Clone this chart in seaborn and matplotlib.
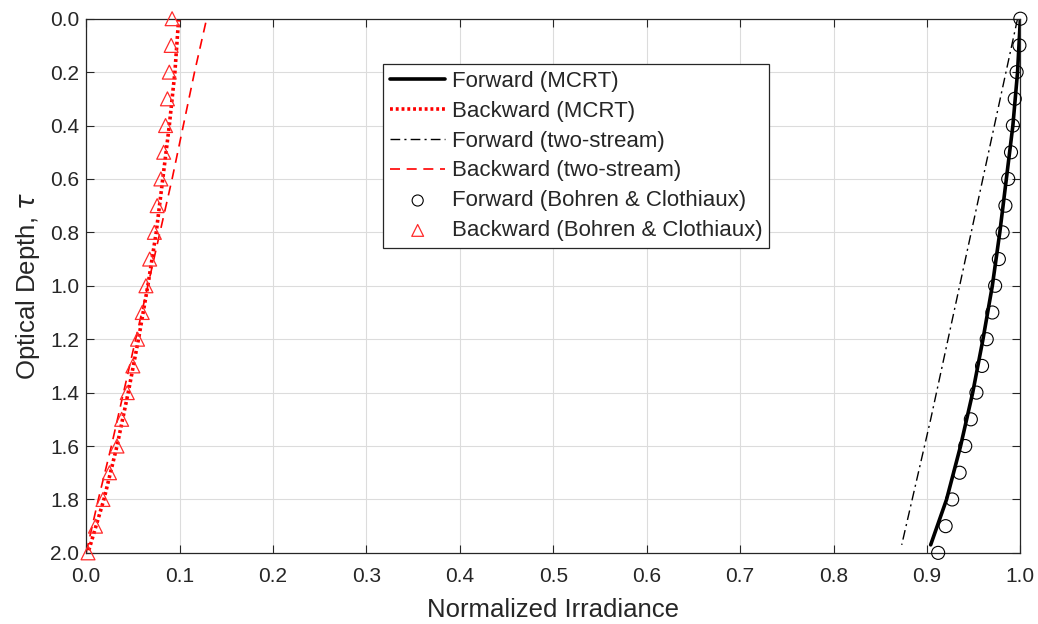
import numpy as np
import pandas as pd
import seaborn as sns
import matplotlib.pyplot as plt

# optical depth grids
tau_pts = [0.0, 0.1, 0.2, 0.3, 0.4, 0.5, 0.6, 0.7, 0.8, 0.9, 1.0,
           1.1, 1.2, 1.3, 1.4, 1.5, 1.6, 1.7, 1.8, 1.9, 2.0]
tau_fwd_mcrt = [0.0, 0.2, 0.4, 0.6, 0.8, 1.0, 1.2, 1.4, 1.6, 1.8, 1.97]
tau_bwd_mcrt = [0.0, 0.2, 0.4, 0.6, 0.8, 1.0, 1.2, 1.4, 1.6, 1.8, 2.0]
tau_fwd_2s = [0.0, 0.5, 1.0, 1.5, 1.97]
tau_bwd_2s = [0.015, 0.2, 0.4, 0.6, 0.8, 1.0, 1.2, 1.4, 1.6, 1.8, 2.0]

# normalized irradiance values
fwd_mcrt = [1.0, 0.997, 0.992, 0.985, 0.978, 0.970, 0.960, 0.949, 0.936, 0.921, 0.904]
bwd_mcrt = [0.099, 0.095, 0.089, 0.082, 0.075, 0.066, 0.056, 0.045, 0.033, 0.019, 0.002]
fwd_2s = [0.997, 0.966, 0.935, 0.904, 0.873]
bwd_2s = [0.128, 0.116, 0.104, 0.092, 0.079, 0.066, 0.053, 0.040, 0.027, 0.013, 0.0]
fwd_bc = [1.0, 0.999, 0.996, 0.994, 0.992, 0.990, 0.987, 0.984, 0.981, 0.977, 0.973,
          0.970, 0.964, 0.959, 0.953, 0.947, 0.941, 0.935, 0.927, 0.920, 0.912]
bwd_bc = [0.092, 0.091, 0.089, 0.087, 0.085, 0.083, 0.080, 0.076, 0.073, 0.068, 0.064,
          0.060, 0.055, 0.050, 0.044, 0.038, 0.033, 0.025, 0.018, 0.010, 0.002]

sns.set_theme(style='ticks')
plt.rcParams['font.family'] = ['Liberation Sans', 'DejaVu Sans']
plt.rcParams['mathtext.fontset'] = 'dejavusans'

fig, ax = plt.subplots(figsize=(10.38, 6.24), dpi=100)
fig.subplots_adjust(left=0.083, right=0.983, top=0.970, bottom=0.114)

sns.lineplot(x=fwd_mcrt, y=tau_fwd_mcrt, sort=False, estimator=None, color='black',
             linewidth=2.6, ax=ax, label='Forward (MCRT)')
sns.lineplot(x=bwd_mcrt, y=tau_bwd_mcrt, sort=False, estimator=None, color='red',
             linewidth=2.6, linestyle=(0, (0.8, 0.8)), ax=ax, label='Backward (MCRT)')
sns.lineplot(x=fwd_2s, y=tau_fwd_2s, sort=False, estimator=None, color='black',
             linewidth=1.0, linestyle=(0, (7, 3, 1.5, 3)), ax=ax, label='Forward (two-stream)')
sns.lineplot(x=bwd_2s, y=tau_bwd_2s, sort=False, estimator=None, color='red',
             linewidth=1.2, linestyle=(0, (6, 4)), ax=ax, label='Backward (two-stream)')
sns.scatterplot(x=fwd_bc, y=tau_pts, marker='o', s=88, facecolor='none', edgecolor='black',
                linewidth=0.8, ax=ax, label='Forward (Bohren & Clothiaux)', zorder=3,
                clip_on=False)
sns.scatterplot(x=bwd_bc, y=tau_pts, marker='^', s=100, facecolor='none', edgecolor='#ff2a2a',
                linewidth=0.9, ax=ax, label='Backward (Bohren & Clothiaux)', zorder=3,
                clip_on=False)

ax.set_xlim(0, 1)
ax.set_ylim(2, 0)
ax.set_xticks(np.arange(0, 1.01, 0.1))
ax.set_yticks(np.arange(0, 2.01, 0.2))
ax.xaxis.set_major_formatter(plt.FormatStrFormatter('%.1f'))
ax.yaxis.set_major_formatter(plt.FormatStrFormatter('%.1f'))
ax.grid(True, color='#dcdcdc', linewidth=0.8)
ax.set_axisbelow(True)
ax.tick_params(direction='in', top=True, right=True, labelsize=15, colors='#262626',
               length=6, width=0.8)
ax.tick_params(axis='x', pad=10)
ax.tick_params(axis='y', pad=5)
for sp in ax.spines.values():
    sp.set_color('#262626')
    sp.set_linewidth(0.9)

ax.set_xlabel('Normalized Irradiance', fontsize=18.5, color='#262626', labelpad=9)
ax.set_ylabel(r'Optical Depth, $\tau$', fontsize=18.5, color='#262626', labelpad=6)

handles, labels = ax.get_legend_handles_labels()
leg = ax.legend(handles, labels, loc='upper left', bbox_to_anchor=(0.318, 0.915),
                fontsize=16, frameon=True, fancybox=False, edgecolor='#262626',
                handlelength=2.5, borderpad=0.3, labelspacing=0.4, handletextpad=0.3,
                borderaxespad=0, markerscale=0.85)
leg.get_frame().set_linewidth(0.9)
leg.get_frame().set_alpha(1)

fig.savefig('out.png', dpi=100)
